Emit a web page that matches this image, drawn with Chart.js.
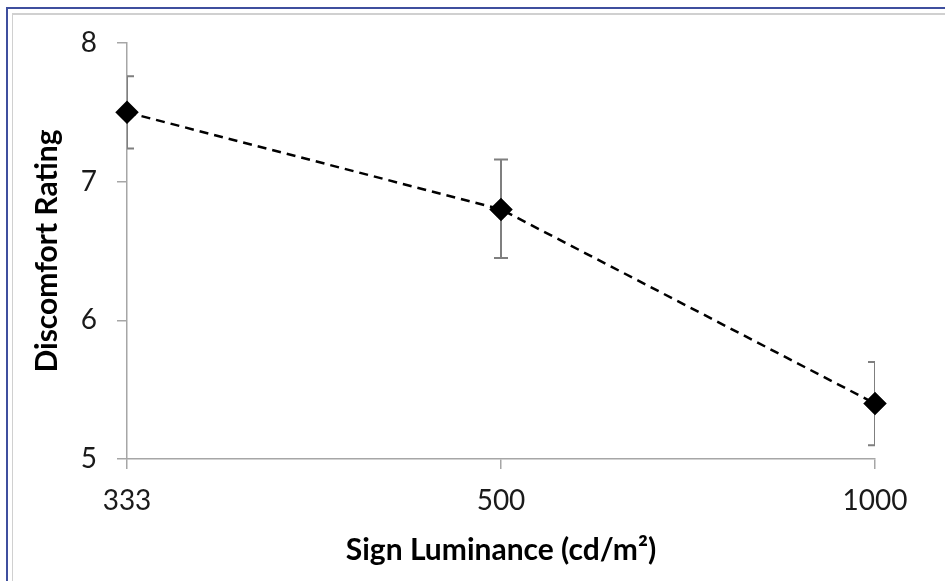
<!DOCTYPE html>
<html>
<head>
<meta charset="utf-8">
<script src="https://cdn.jsdelivr.net/npm/chart.js@4"></script>
<style>
  html, body { margin: 0; padding: 0; background: #fff; }
  #wrap { position: relative; width: 945px; height: 581px; overflow: hidden; }
  #outer { position: absolute; left: 6px; top: 7px; right: -10px; bottom: -10px; border-left: 2px solid #3f4f9e; border-top: 2px solid #3f4f9e; }
  #inner { position: absolute; left: 12px; top: 13px; right: -10px; bottom: -10px; border-left: 1px solid #d0d0d0; border-top: 2px solid #d0d0d0; }
</style>
</head>
<body>
<div id="wrap">
  <canvas id="chart" width="945" height="581"></canvas>
  <div id="outer"></div>
  <div id="inner"></div>
</div>
<script>
const categories = ['333', '500', '1000'];
const ratings = [7.5, 6.8, 5.4];
const errHigh = [7.76, 7.16, 5.70];
const errLow = [7.24, 6.45, 5.10];

const FONT = 'Lato, "Open Sans", sans-serif';
const AXIS_GREY = '#a6a6a6';

// error bars drawn under the line, clipped to the plot area like Excel does
const errorBars = {
  id: 'errorBars',
  beforeDatasetsDraw(chart) {
    const { ctx, chartArea, scales } = chart;
    ctx.save();
    ctx.beginPath();
    ctx.rect(chartArea.left, chartArea.top, chartArea.right - chartArea.left, chartArea.bottom - chartArea.top);
    ctx.clip();
    ctx.strokeStyle = '#7f7f7f';
    ctx.lineWidth = 2;
    categories.forEach((c, i) => {
      const x = scales.x.getPixelForValue(i);
      const yh = scales.y.getPixelForValue(errHigh[i]);
      const yl = scales.y.getPixelForValue(errLow[i]);
      ctx.beginPath();
      ctx.moveTo(x, yh); ctx.lineTo(x, yl);
      ctx.moveTo(x - 7, yh); ctx.lineTo(x + 7, yh);
      ctx.moveTo(x - 7, yl); ctx.lineTo(x + 7, yl);
      ctx.stroke();
    });
    ctx.restore();
  }
};

new Chart(document.getElementById('chart'), {
  type: 'line',
  data: {
    labels: categories,
    datasets: [{
      data: ratings,
      borderColor: '#000',
      borderWidth: 2.5,
      borderDash: [9, 6],
      pointStyle: 'rectRot',
      pointRadius: 10,
      pointBackgroundColor: '#000',
      pointBorderColor: '#000',
      tension: 0,
      fill: false
    }]
  },
  options: {
    responsive: false,
    animation: false,
    layout: { padding: { left: 0, top: 43, right: 70, bottom: 0 } },
    plugins: { legend: { display: false }, tooltip: { enabled: false } },
    scales: {
      x: {
        offset: false,
        afterFit: s => { s.height = 122; },
        grid: { drawOnChartArea: false, tickLength: 10, color: AXIS_GREY, lineWidth: 1.5 },
        border: { color: AXIS_GREY, width: 1.5 },
        ticks: { color: '#1a1a1a', font: { family: FONT, size: 28 }, padding: 15, maxRotation: 0 },
        title: { display: true, text: 'Sign Luminance (cd/m²)', color: '#000', font: { family: FONT, size: 30, weight: 'bold' }, padding: { top: 0, bottom: 13 } }
      },
      y: {
        min: 5, max: 8,
        afterFit: s => { s.width = 127; },
        grid: { drawOnChartArea: false, tickLength: 10, color: AXIS_GREY, lineWidth: 1.5 },
        border: { color: AXIS_GREY, width: 1.5 },
        ticks: { stepSize: 1, color: '#1a1a1a', font: { family: FONT, size: 28 }, padding: 20 },
        title: { display: true, text: 'Discomfort Rating', color: '#000', font: { family: FONT, size: 30, weight: 'bold' }, padding: { top: 29, bottom: 0 } }
      }
    }
  },
  plugins: [errorBars]
});
</script>
</body>
</html>
